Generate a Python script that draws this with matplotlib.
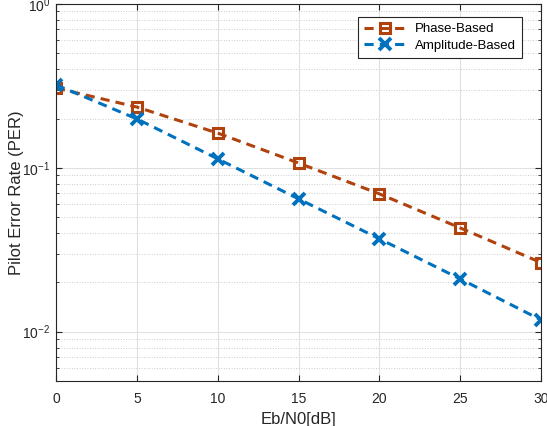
import matplotlib

matplotlib.use("Agg")
import matplotlib.pyplot as plt
from matplotlib.ticker import LogLocator, NullFormatter

plt.rcParams["font.family"] = ["Liberation Sans", "DejaVu Sans"]

# Eb/N0 in dB
ebn0_db = [0, 5, 10, 15, 20, 25, 30]
per_phase = [0.307, 0.235, 0.163, 0.107, 0.0694, 0.043, 0.0264]
per_amplitude = [0.321, 0.199, 0.1135, 0.0647, 0.0369, 0.021, 0.0118]
x_ticks = [0, 5, 10, 15, 20, 25, 30]

orange = "#B0420E"
blue = "#0072BD"
dark = "#262626"

fig = plt.figure(figsize=(5.47, 4.26), dpi=100)
ax = fig.add_axes([56 / 547, 1 - 381 / 426, 485 / 547, 377 / 426])

ax.semilogy(ebn0_db, per_phase, linestyle="--", color=orange, linewidth=2.2,
            marker="s", markersize=6.5, markerfacecolor="none", markeredgewidth=2.2,
            dashes=(3, 2), label="Phase-Based")
ax.semilogy(ebn0_db, per_amplitude, linestyle="--", color=blue, linewidth=2.2,
            marker="x", markersize=8, markeredgewidth=2.8,
            dashes=(3, 2), label="Amplitude-Based")

ax.set_xlim(0, 30)
ax.set_ylim(0.005, 1)
ax.set_xticks(x_ticks)
ax.yaxis.set_major_locator(LogLocator(base=10, numticks=10))
ax.yaxis.set_minor_locator(LogLocator(base=10, subs=range(2, 10), numticks=20))
ax.yaxis.set_minor_formatter(NullFormatter())

ax.grid(True, which="major", color="#e0e0e0", linewidth=0.8)
ax.grid(True, which="minor", axis="y", color="#cccccc", linestyle=":", linewidth=0.7)
ax.set_axisbelow(True)

ax.tick_params(which="both", direction="in", top=True, right=True,
               labelsize=10, colors=dark)
ax.tick_params(which="major", length=4)
ax.tick_params(which="minor", length=2)
ax.tick_params(axis="x", which="major", pad=8)
ax.tick_params(axis="y", which="major", pad=4)
for spine in ax.spines.values():
    spine.set_color(dark)
    spine.set_linewidth(0.8)

ax.set_xlabel("Eb/N0[dB]", fontsize=12, color=dark, labelpad=4)
ax.set_ylabel("Pilot Error Rate (PER)", fontsize=12, color=dark)
ax.yaxis.set_label_coords(-0.066, 0.5)

leg = ax.legend(loc="upper right", bbox_to_anchor=(0.961, 0.9655), fontsize=9.5,
                fancybox=False, edgecolor=dark, framealpha=1, borderaxespad=0,
                handlelength=3.3, borderpad=0.45, labelspacing=0.35,
                handletextpad=0.6)
leg.get_frame().set_linewidth(0.8)

fig.savefig("out.png", dpi=100)
